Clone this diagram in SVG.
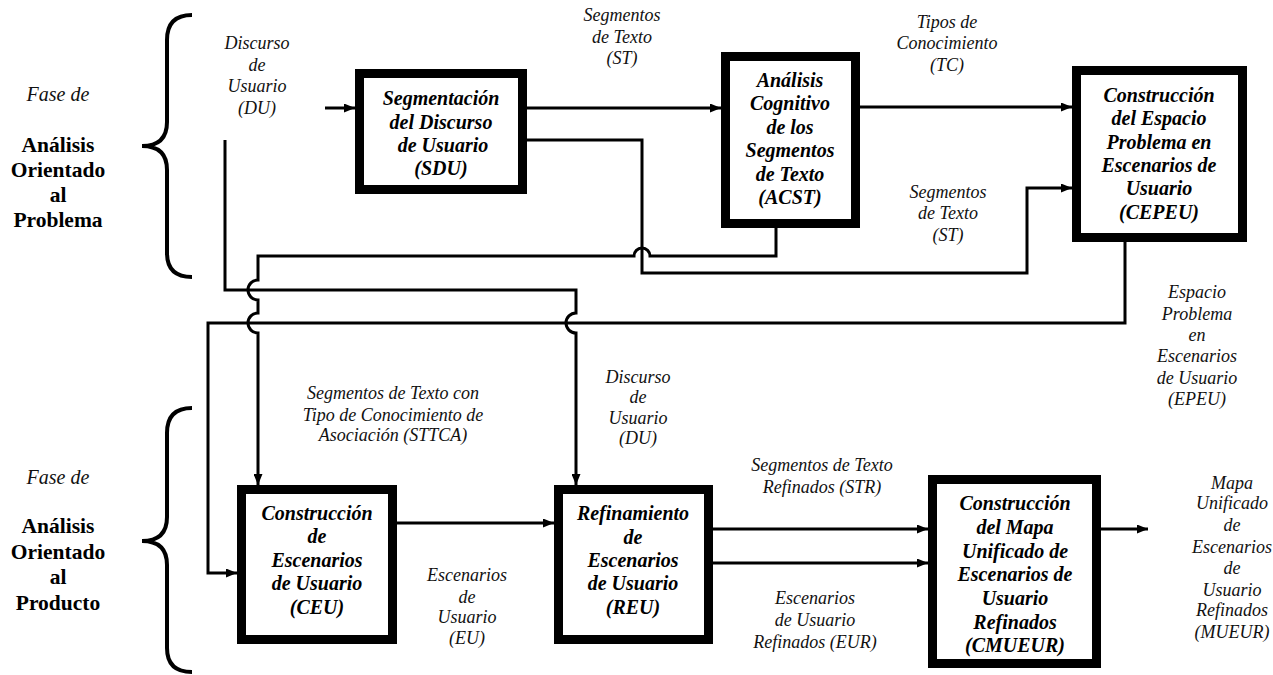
<svg xmlns="http://www.w3.org/2000/svg" width="1273" height="675" viewBox="0 0 1273 675">
<style>
.bt{font-size:20px;font-weight:bold;font-style:italic;text-anchor:middle;fill:#000}
.lb{font-size:18px;font-style:italic;text-anchor:middle;fill:#111}
.ph{font-size:20px;font-style:italic;text-anchor:middle;fill:#111}
.pb{font-size:21.5px;font-weight:bold;text-anchor:middle;fill:#000}
.box{fill:#fff;stroke:#000;stroke-width:9}
.ln{fill:none;stroke:#000;stroke-width:3}
.br{fill:none;stroke:#000;stroke-width:4}
</style>
<defs>
<marker id="ah" markerUnits="userSpaceOnUse" markerWidth="11" markerHeight="9" refX="11" refY="4.5" orient="auto">
<path d="M0,0 L11,4.5 L0,9 z" fill="#000"/>
</marker>
</defs>
<rect width="1273" height="675" fill="#fff"/>
<g font-family="Liberation Serif, Tinos, Times New Roman, DejaVu Serif, serif">
<g id="phase-problem">
<path class="br" d="M192,15 Q167,15 167,40 L167,122 Q167,146 142,146 Q167,146 167,170 L167,253 Q167,277 192,277"/>
<text class="ph" x="58" y="101">Fase de</text>
<text class="pb" x="58" y="152">Análisis</text>
<text class="pb" x="58" y="177">Orientado</text>
<text class="pb" x="58" y="202">al</text>
<text class="pb" x="58" y="227">Problema</text>
</g>

<g id="phase-product">
<path class="br" d="M192,408 Q167,408 167,433 L167,517 Q167,541 142,541 Q167,541 167,565 L167,648 Q167,672 192,672"/>
<text class="ph" x="58" y="484">Fase de</text>
<text class="pb" x="58" y="533">Análisis</text>
<text class="pb" x="58" y="559">Orientado</text>
<text class="pb" x="58" y="584">al</text>
<text class="pb" x="58" y="610">Producto</text>
</g>

<g id="connectors">
<path class="ln" d="M325,108 H355" marker-end="url(#ah)"/>
<path class="ln" d="M527,108 H721" marker-end="url(#ah)"/>
<path class="ln" d="M860,107 H1072" marker-end="url(#ah)"/>
<path class="ln" d="M527,140 H642 V273 H1027 V188 H1072" marker-end="url(#ah)"/>
<path class="ln" d="M776,228 V256 H650 A8,8 0 0 0 634,256 H258 V280 A10,10 0 0 0 258,300 V313 A10,10 0 0 0 258,333 V485" marker-end="url(#ah)"/>
<path class="ln" d="M225,140 V290 H576 V313 A10,10 0 0 0 576,333 V485" marker-end="url(#ah)"/>
<path class="ln" d="M1125,242 V323 H208 V573 H237" marker-end="url(#ah)"/>
<path class="ln" d="M397,523 H554" marker-end="url(#ah)"/>
<path class="ln" d="M713,529 H928" marker-end="url(#ah)"/>
<path class="ln" d="M713,563 H928" marker-end="url(#ah)"/>
<path class="ln" d="M1101,529 H1148" marker-end="url(#ah)"/>
</g>

<g id="labels">
<text class="lb" x="257" y="49">Discurso</text>
<text class="lb" x="257" y="71">de</text>
<text class="lb" x="257" y="92">Usuario</text>
<text class="lb" x="257" y="114">(DU)</text>

<text class="lb" x="622" y="21">Segmentos</text>
<text class="lb" x="622" y="43">de Texto</text>
<text class="lb" x="622" y="64">(ST)</text>

<text class="lb" x="947" y="28">Tipos de</text>
<text class="lb" x="947" y="49">Conocimiento</text>
<text class="lb" x="947" y="71">(TC)</text>

<text class="lb" x="948" y="198">Segmentos</text>
<text class="lb" x="948" y="219">de Texto</text>
<text class="lb" x="948" y="241">(ST)</text>

<text class="lb" x="1197" y="298">Espacio</text>
<text class="lb" x="1197" y="320">Problema</text>
<text class="lb" x="1197" y="341">en</text>
<text class="lb" x="1197" y="362">Escenarios</text>
<text class="lb" x="1197" y="384">de Usuario</text>
<text class="lb" x="1197" y="405">(EPEU)</text>

<text class="lb" x="393" y="399">Segmentos de Texto con</text>
<text class="lb" x="393" y="421">Tipo de Conocimiento de</text>
<text class="lb" x="393" y="441">Asociación (STTCA)</text>

<text class="lb" x="638" y="383">Discurso</text>
<text class="lb" x="638" y="403">de</text>
<text class="lb" x="638" y="424">Usuario</text>
<text class="lb" x="638" y="444">(DU)</text>

<text class="lb" x="822" y="471">Segmentos de Texto</text>
<text class="lb" x="822" y="493">Refinados (STR)</text>

<text class="lb" x="467" y="581">Escenarios</text>
<text class="lb" x="467" y="603">de</text>
<text class="lb" x="467" y="623">Usuario</text>
<text class="lb" x="467" y="644">(EU)</text>

<text class="lb" x="815" y="604">Escenarios</text>
<text class="lb" x="815" y="626">de Usuario</text>
<text class="lb" x="815" y="648">Refinados (EUR)</text>

<text class="lb" x="1232" y="489">Mapa</text>
<text class="lb" x="1232" y="509">Unificado</text>
<text class="lb" x="1232" y="531">de</text>
<text class="lb" x="1232" y="553">Escenarios</text>
<text class="lb" x="1232" y="574">de</text>
<text class="lb" x="1232" y="596">Usuario</text>
<text class="lb" x="1232" y="616">Refinados</text>
<text class="lb" x="1232" y="638">(MUEUR)</text>
</g>

<g id="SDU">
<rect class="box" x="359.5" y="73.5" width="163" height="116"/>
<text class="bt" x="441" y="105">Segmentación</text>
<text class="bt" x="441" y="129">del Discurso</text>
<text class="bt" x="443" y="152">de Usuario</text>
<text class="bt" x="441" y="175">(SDU)</text>
</g>

<g id="ACST">
<rect class="box" x="725.5" y="56.5" width="130" height="167"/>
<text class="bt" x="790" y="87">Análisis</text>
<text class="bt" x="790" y="110">Cognitivo</text>
<text class="bt" x="790" y="134">de los</text>
<text class="bt" x="790" y="157">Segmentos</text>
<text class="bt" x="790" y="181">de Texto</text>
<text class="bt" x="790" y="204">(ACST)</text>
</g>

<g id="CEPEU">
<rect class="box" x="1076.5" y="70.5" width="166" height="167"/>
<text class="bt" x="1159" y="102">Construcción</text>
<text class="bt" x="1159" y="125">del Espacio</text>
<text class="bt" x="1159" y="149">Problema en</text>
<text class="bt" x="1159" y="172">Escenarios de</text>
<text class="bt" x="1159" y="195">Usuario</text>
<text class="bt" x="1159" y="219">(CEPEU)</text>
</g>

<g id="CEU">
<rect class="box" x="241.5" y="489.5" width="151" height="150"/>
<text class="bt" x="317" y="520">Construcción</text>
<text class="bt" x="317" y="543">de</text>
<text class="bt" x="317" y="567">Escenarios</text>
<text class="bt" x="317" y="590">de Usuario</text>
<text class="bt" x="317" y="614">(CEU)</text>
</g>

<g id="REU">
<rect class="box" x="558.5" y="489.5" width="150" height="150"/>
<text class="bt" x="633" y="520">Refinamiento</text>
<text class="bt" x="633" y="544">de</text>
<text class="bt" x="633" y="567">Escenarios</text>
<text class="bt" x="633" y="590">de Usuario</text>
<text class="bt" x="633" y="614">(REU)</text>
</g>

<g id="CMUEUR">
<rect class="box" x="932.5" y="479.5" width="164" height="184"/>
<text class="bt" x="1015" y="510">Construcción</text>
<text class="bt" x="1015" y="534">del Mapa</text>
<text class="bt" x="1015" y="558">Unificado de</text>
<text class="bt" x="1015" y="581">Escenarios de</text>
<text class="bt" x="1015" y="605">Usuario</text>
<text class="bt" x="1015" y="629">Refinados</text>
<text class="bt" x="1015" y="652">(CMUEUR)</text>
</g>
</g>
</svg>
